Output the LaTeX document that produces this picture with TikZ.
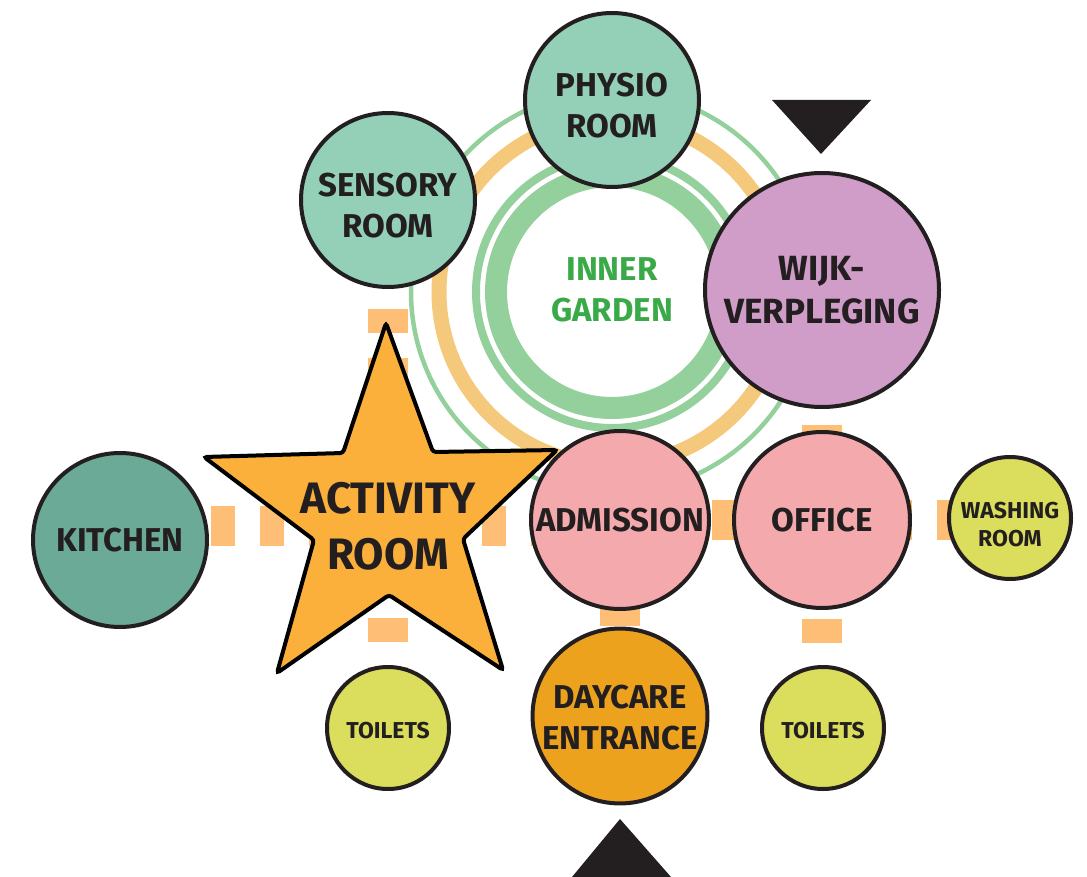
\documentclass[tikz,border=0pt]{standalone}
\usepackage{fontspec}
\setmainfont{Fira Sans}
\definecolor{outl}{HTML}{231F20}
\definecolor{mint}{HTML}{94CFB7}
\definecolor{kitch}{HTML}{6BAA96}
\definecolor{wijkc}{HTML}{D09CC8}
\definecolor{pinkc}{HTML}{F4AAAD}
\definecolor{limec}{HTML}{DBDD5C}
\definecolor{dayc}{HTML}{EDA21E}
\definecolor{starc}{HTML}{FBB03B}
\definecolor{ringg}{HTML}{93D09B}
\definecolor{ringo}{HTML}{F5C97B}
\definecolor{dashc}{HTML}{FEBE75}
\definecolor{gardent}{HTML}{3AAA48}
\newcommand\fsStd{\fontsize{33}{41}\selectfont\bfseries}
\newcommand\fsWide{\fontsize{35}{43}\selectfont\bfseries}
\newcommand\fsSmall{\fontsize{23}{28}\selectfont\bfseries}
\newcommand\fsBig{\fontsize{44}{56}\selectfont\bfseries}
\newcommand\lbl[2][0pt]{\raisebox{-#1}[\height][\depth]{\begin{tabular}{@{}c@{}}#2\end{tabular}}}
\begin{document}
\begin{tikzpicture}[x=1pt,y=-1pt,
  room/.style={circle, draw=outl, line width=4pt, inner sep=0pt,
    minimum size=#1, align=center, text=outl, font=\fsStd},
  conn/.style={draw=dashc, line width=40pt, dash pattern=on 24pt off 25pt},
  ring/.style={draw=#1},
  marker/.style={fill=outl}]
\useasboundingbox (0,0) rectangle (1087,877);
% inner garden rings
\coordinate (gc) at (612,292);
\draw[ring=ringg, line width=22pt] (gc) circle[radius=116];
\draw[ring=ringg, line width=8pt] (gc) circle[radius=136];
\draw[ring=ringo, line width=15pt] (gc) circle[radius=173];
\draw[ring=ringg, line width=4.5pt] (gc) circle[radius=201];
\node[text=gardent, font=\fsStd, align=center] (garden) at (612,290) {INNER\\GARDEN};
% node centres
\coordinate (activity) at (388,526);
\path (612,100) coordinate (cphysio)
      (388,200) coordinate (csensory)
      (822,290) coordinate (cwijk)
      (120,540) coordinate (ckitchen)
      (620,520) coordinate (cadmission)
      (822,520) coordinate (coffice)
      (1010,518) coordinate (cwashing)
      (388,728) coordinate (ctoiletsl)
      (620,716) coordinate (cdaycare)
      (823,728) coordinate (ctoiletsr);
% connectors
\draw[conn, dash phase=43pt] (activity) -- (ckitchen |- activity);
\draw[conn, dash phase=4pt] (activity) -- (cadmission |- activity);
\draw[conn, dash phase=6pt] (cadmission) -- (coffice);
\draw[conn, dash phase=32pt] (coffice) -- (cwashing |- coffice);
\draw[conn, dash phase=38pt] (csensory) -- (csensory |- activity);
\draw[conn, dash phase=6pt] (activity) -- (ctoiletsl);
\draw[conn, dash phase=16pt] (cadmission) -- (cdaycare);
\draw[conn, dash phase=48pt] (coffice) -- (coffice |- ctoiletsr);
\draw[conn, dash phase=12pt] (cwijk) -- (coffice);
% star
\draw[fill=starc, draw=black, line width=4pt, rounded corners=3pt]
  (386,323) -- (433,452) -- (557,450) -- (463,539) -- (503,670) --
  (389,595) -- (277,673) -- (314,540) -- (204,457) -- (343,453) -- cycle;
\node[text=outl, font=\fsBig, align=center] (activitytext) at (activity) {ACTIVITY\\ROOM};
% rooms
\node[room=174pt, fill=mint] (physio) at (cphysio) {\lbl[9pt]{PHYSIO\\ROOM}};
\node[room=174pt, fill=mint] (sensory) at (csensory) {\lbl[9pt]{SENSORY\\ROOM}};
\node[room=234pt, fill=wijkc, font=\fsWide] (wijk) at (cwijk) {WIJK-\\VERPLEGING};
\node[room=174pt, fill=kitch] (kitchen) at (ckitchen) {KITCHEN};
\node[room=178pt, fill=pinkc] (admission) at (cadmission) {ADMISSION};
\node[room=176pt, fill=pinkc] (office) at (coffice) {OFFICE};
\node[room=122pt, fill=limec, font=\fsSmall] (washing) at (cwashing) {\lbl[9pt]{WASHING\\ROOM}};
\node[room=122pt, fill=limec, font=\fsSmall] (toiletsl) at (ctoiletsl) {\lbl[5pt]{TOILETS}};
\node[room=174pt, fill=dayc] (daycare) at (cdaycare) {\lbl[5pt]{DAYCARE\\ENTRANCE}};
\node[room=122pt, fill=limec, font=\fsSmall] (toiletsr) at (ctoiletsr) {\lbl[5pt]{TOILETS}};
% entrance markers
\fill[marker] (772,100) -- (871,100) -- (821,154) -- cycle;
\fill[marker] (572,877) -- (671,877) -- (620,819) -- cycle;
\end{tikzpicture}
\end{document}
